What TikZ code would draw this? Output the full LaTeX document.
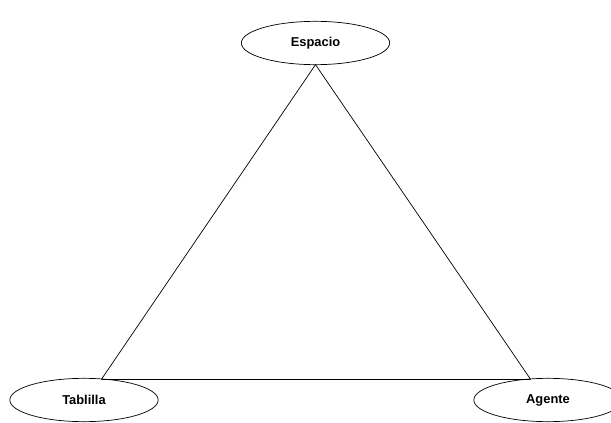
\documentclass[tikz,border=0pt]{standalone}
\usepackage{fontspec}
\setmainfont{Liberation Sans}
\usetikzlibrary{shapes.geometric}

\tikzset{
  ent/.style={draw,ellipse,line width=0.6pt,outer sep=0pt,inner sep=0pt,
    minimum width=4.45cm,minimum height=1.3cm,
    font=\fontsize{11}{13}\selectfont\bfseries},
  rel/.style={line width=0.6pt}
}

\begin{document}
\begin{tikzpicture}[line cap=round,line join=round,x=0.03cm,y=-0.03cm]
\useasboundingbox (0,0) rectangle (611,423);
\clip (0,0) rectangle (611,423);
\node[ent] (esp) at (315.5,43) {Espacio};
\node[ent] (tab) at (84,400) {Tablilla};
\node[ent] (age) at (548,400) {Agente};
\draw[rel] (esp.south) -- (tab.50);
\draw[rel] (esp.south) -- (age.130);
\draw[rel] (tab.50) -- (age.130);
\end{tikzpicture}
\end{document}
